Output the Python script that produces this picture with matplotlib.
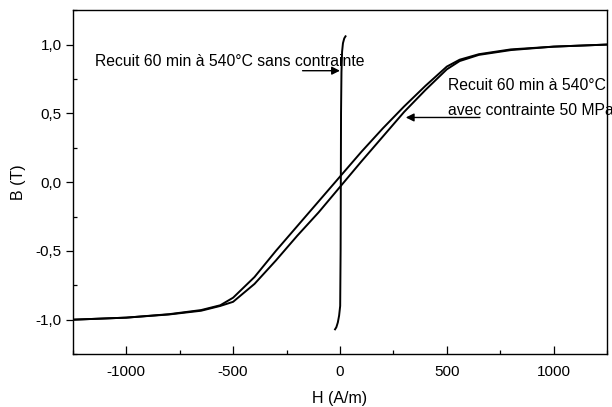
import matplotlib
matplotlib.use("Agg")
import matplotlib.pyplot as plt
from matplotlib.ticker import MultipleLocator, FuncFormatter

plt.rcParams['font.family'] = ['Liberation Sans', 'DejaVu Sans']
plt.rcParams['axes.unicode_minus'] = False

# loop with stress, descending branch (upper/left)
h_desc = [1250, 1000, 800, 650, 560, 500, 400, 300, 200, 100, 0, -100, -200, -300, -400, -500, -560, -650, -800, -1000, -1250]
b_desc = [1.0, 0.985, 0.965, 0.93, 0.89, 0.84, 0.70, 0.55, 0.39, 0.22, 0.04, -0.14, -0.32, -0.50, -0.69, -0.84, -0.895, -0.93, -0.96, -0.985, -1.0]
# loop with stress, ascending branch (lower/right)
h_asc = [-1250, -1000, -800, -650, -560, -500, -400, -300, -200, -100, 0, 100, 200, 300, 400, 500, 560, 650, 800, 1000, 1250]
b_asc = [-1.0, -0.985, -0.962, -0.935, -0.90, -0.87, -0.74, -0.57, -0.39, -0.22, -0.035, 0.15, 0.33, 0.51, 0.67, 0.82, 0.88, 0.925, 0.96, 0.985, 1.0]
# loop without stress (almost vertical)
h_free = [-23, -17, -10, -4, 1, 3, 4, 5, 7, 10, 14, 20, 26]
b_free = [-1.07, -1.055, -1.02, -0.97, -0.9, -0.5, 0.0, 0.5, 0.8, 0.95, 1.01, 1.045, 1.06]

xticks = [-1000, -500, 0, 500, 1000]
yticks = [-1.0, -0.5, 0.0, 0.5, 1.0]

fig = plt.figure(figsize=(6.12, 4.07), dpi=100)
ax = fig.add_axes([0.119, 0.130, 0.873, 0.845])

ax.plot(h_desc, b_desc, color='black', lw=1.4)
ax.plot(h_asc, b_asc, color='black', lw=1.4)
ax.plot(h_free, b_free, color='black', lw=1.4)

ax.set_xlim(-1250, 1250)
ax.set_ylim(-1.25, 1.25)
ax.set_xticks(xticks)
ax.set_yticks(yticks)
ax.xaxis.set_minor_locator(MultipleLocator(250))
ax.yaxis.set_minor_locator(MultipleLocator(0.25))
ax.yaxis.set_major_formatter(FuncFormatter(lambda v, p: ('%.1f' % v).replace('.', ',')))
ax.tick_params(axis='x', which='major', direction='in', length=6, width=0.9, labelsize=11, pad=8)
ax.tick_params(axis='x', which='minor', direction='in', length=3, width=0.9)
ax.tick_params(axis='y', which='major', direction='out', length=5, width=0.9, labelsize=11, pad=3)
ax.tick_params(axis='y', which='minor', direction='in', length=3, width=0.9)
for s in ax.spines.values():
    s.set_linewidth(1.0)

ax.set_xlabel('H (A/m)', fontsize=11.5)
ax.set_ylabel('B (T)', fontsize=11.5)
ax.xaxis.set_label_coords(0.5, -0.108)
ax.yaxis.set_label_coords(-0.087, 0.5)

ax.text(-1145, 0.88, 'Recuit 60 min à 540°C sans contrainte', fontsize=11.3, va='center')
ax.annotate('', xy=(0, 0.81), xytext=(-175, 0.81),
            arrowprops=dict(arrowstyle='-|>', color='black', lw=1.0, mutation_scale=12, shrinkA=0, shrinkB=0))
ax.text(505, 0.70, 'Recuit 60 min à 540°C', fontsize=11.3, va='center')
ax.text(505, 0.52, 'avec contrainte 50 MPa', fontsize=11.3, va='center')
ax.annotate('', xy=(308, 0.47), xytext=(655, 0.47),
            arrowprops=dict(arrowstyle='-|>', color='black', lw=1.0, mutation_scale=12, shrinkA=0, shrinkB=0))

fig.savefig('out.png', dpi=100)
